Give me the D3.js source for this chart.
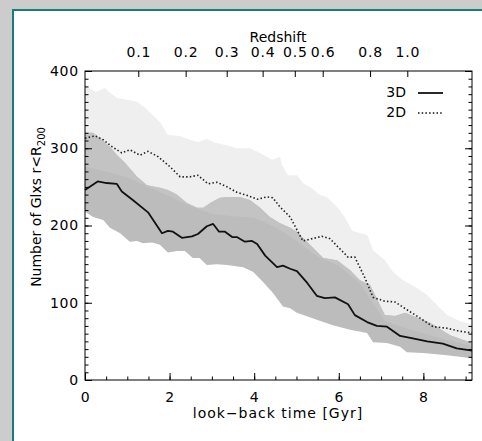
<!DOCTYPE html>
<html>
<head>
<meta charset="utf-8">
<script src="https://cdn.jsdelivr.net/npm/d3@7"></script>
<style>
  body { margin: 0; background: #cccccc; }
  svg { display: block; }
</style>
</head>
<body>
<div id="chart"></div>
<script>
// Redshift axis (top): labels and their look-back times
const redshiftLabels = ["0.1", "0.2", "0.3", "0.4", "0.5", "0.6", "0.8", "1.0"];
const redshiftTimes = [1.26, 2.38, 3.35, 4.2, 4.96, 5.62, 6.74, 7.62];

// 3D median
const time3D = [0, 0.3, 0.51, 0.75, 0.87, 1.13, 1.49, 1.82, 1.96, 2.08, 2.29, 2.53, 2.67, 2.88, 3.03, 3.17, 3.31, 3.48, 3.59, 3.78, 3.95, 4.07, 4.26, 4.54, 4.68, 4.85, 5.01, 5.25, 5.48, 5.67, 5.91, 6.22, 6.38, 6.67, 6.9, 7.14, 7.45, 7.75, 8.09, 8.46, 8.79, 9.15];
const count3D = [246, 257, 255, 254, 244, 233, 217, 190, 193, 192, 184, 186, 189, 199, 202, 192, 192, 185, 185, 179, 180, 176, 161, 146, 148, 144, 141, 126, 109, 106, 107, 98, 84, 75, 70, 69, 57, 54, 50, 47, 41, 38];

// 3D band
const time3DUp = [0, 0.19, 0.35, 0.59, 0.76, 0.95, 1.23, 1.47, 1.77, 1.96, 2.17, 2.41, 2.65, 2.8, 2.96, 3.19, 3.43, 3.66, 3.9, 4.14, 4.37, 4.61, 4.85, 5.01, 5.32, 5.63, 5.96, 6.27, 6.5, 6.74, 7.09, 7.33, 7.57, 8.16, 8.63, 9.15];
const count3DUp = [320, 320, 313, 302, 291, 281, 263, 252, 249, 246, 240, 229, 223, 223, 229, 236, 237, 237, 233, 223, 211, 203, 197, 192, 175, 158, 155, 142, 129, 123, 84, 83, 87, 74, 58, 48];
const time3DLo = [0, 0.19, 0.43, 0.59, 0.83, 1.06, 1.23, 1.37, 1.59, 1.77, 1.96, 2.17, 2.36, 2.55, 2.71, 2.88, 3.12, 3.36, 3.74, 3.97, 4.21, 4.44, 4.68, 4.85, 5.01, 5.48, 5.86, 6.27, 6.67, 6.81, 7.14, 7.45, 7.61, 8.0, 8.56, 9.15];
const count3DLo = [218, 211, 207, 197, 190, 179, 180, 177, 178, 175, 165, 167, 167, 158, 158, 149, 150, 149, 146, 140, 127, 113, 95, 93, 87, 78, 71, 65, 61, 49, 48, 43, 36, 35, 32, 28];

// 2D median
const time2D = [0, 0.24, 0.43, 0.64, 0.87, 1.06, 1.3, 1.49, 1.73, 2.01, 2.25, 2.48, 2.67, 2.91, 3.12, 3.36, 3.59, 3.83, 4.07, 4.3, 4.44, 4.61, 4.85, 5.15, 5.6, 5.79, 6.22, 6.38, 6.62, 6.81, 7.09, 7.33, 7.61, 7.87, 8.23, 8.56, 8.87, 9.15];
const count2D = [313, 316, 311, 302, 294, 298, 291, 296, 289, 276, 263, 263, 265, 254, 256, 250, 243, 239, 234, 237, 236, 224, 211, 180, 186, 183, 159, 159, 132, 107, 102, 101, 91, 82, 69, 67, 63, 61];

// 2D band
const time2DUp = [0, 0.24, 0.35, 0.47, 0.59, 0.76, 1.06, 1.25, 1.47, 1.77, 1.96, 2.25, 2.48, 2.67, 2.88, 3.07, 3.36, 3.59, 3.9, 4.14, 4.42, 4.61, 4.66, 4.8, 5.01, 5.15, 5.32, 5.56, 5.72, 5.96, 6.15, 6.31, 6.38, 6.67, 6.81, 7.09, 7.28, 7.52, 7.85, 8.09, 8.32, 8.56, 8.87, 9.15];
const count2DUp = [382, 373, 375, 378, 372, 365, 362, 360, 350, 334, 317, 316, 311, 308, 312, 307, 304, 300, 300, 294, 285, 289, 278, 265, 265, 255, 250, 239, 237, 224, 210, 194, 192, 188, 168, 155, 140, 129, 119, 110, 97, 84, 76, 72];
const time2DLo = [0, 0.5, 1, 1.5, 2, 2.5, 3, 3.5, 4, 4.5, 5, 5.5, 6, 6.5, 7.1, 7.6, 8.1, 8.6, 9.15];
const count2DLo = [276, 270, 262, 250, 238, 225, 215, 212, 210, 198, 180, 160, 148, 125, 76, 67, 59, 51, 44];

const yMajor = [0, 100, 200, 300, 400];
const xMajor = [0, 2, 4, 6, 8];

const W = 482, H = 441;
const svg = d3.select("#chart").append("svg")
    .attr("width", W)
    .attr("height", H)
    .style("font-family", "DejaVu Sans")
    .style("font-size", "14px");

// panel
svg.append("rect")
    .attr("x", 13).attr("y", 10)
    .attr("width", W).attr("height", H)
    .attr("fill", "#ffffff")
    .attr("stroke", "#1b7b7b")
    .attr("stroke-width", 2);

const x = d3.scaleLinear().domain([0, 9.15]).range([85, 472]);
const y = d3.scaleLinear().domain([0, 400]).range([380, 71]);

const pts = (ts, vs) => ts.map((t, i) => [x(t), y(vs[i])]);
const line = d3.line();

function bandPath(tu, vu, tl, vl) {
    const upper = pts(tu, vu);
    const lower = pts(tl, vl).reverse();
    return line(upper.concat(lower)) + "Z";
}

const band2D = bandPath(time2DUp, count2DUp, time2DLo, count2DLo);
const band3D = bandPath(time3DUp, count3DUp, time3DLo, count3DLo);

svg.append("clipPath").attr("id", "clip3d")
    .append("path").attr("d", band3D);

// Bands
svg.append("path").attr("d", band2D).attr("fill", "#efefef");
svg.append("path").attr("d", band3D).attr("fill", "#bcbcbc");
// overlap of the two bands is a touch lighter
svg.append("path").attr("d", band2D)
    .attr("fill", "#c3c3c3")
    .attr("clip-path", "url(#clip3d)");

// Median lines
svg.append("path")
    .attr("d", line(pts(time2D, count2D)))
    .attr("fill", "none")
    .attr("stroke", "#222")
    .attr("stroke-width", 1.6)
    .attr("stroke-dasharray", "1.5 2.2");

svg.append("path")
    .attr("d", line(pts(time3D, count3D)))
    .attr("fill", "none")
    .attr("stroke", "#111")
    .attr("stroke-width", 1.8)
    .attr("stroke-linejoin", "round");

// Axes
function styleAxis(g) {
    g.select(".domain").remove();
    g.selectAll("line").attr("stroke", "#000");
    g.selectAll("text").attr("fill", "#000")
        .style("font-size", "14px")
        .style("font-family", "DejaVu Sans")
        .style("letter-spacing", "0.8px");
}

const xMinor = d3.range(0, 9.15, 0.5);
const yMinor = d3.range(0, 401, 10);

svg.append("g").attr("transform", "translate(0,380)")
    .call(d3.axisBottom(x).tickValues(xMinor).tickSize(-3.5).tickFormat(""))
    .call(styleAxis);
svg.append("g").attr("transform", "translate(0,380)")
    .call(d3.axisBottom(x).tickValues(xMajor).tickSize(-7).tickPadding(12).tickFormat(d3.format("d")))
    .call(styleAxis);

svg.append("g").attr("transform", "translate(0,71)")
    .call(d3.axisTop(x).tickValues(redshiftTimes).tickSize(-6).tickPadding(14)
        .tickFormat((d, i) => redshiftLabels[i]))
    .call(styleAxis);

svg.append("g").attr("transform", "translate(85,0)")
    .call(d3.axisLeft(y).tickValues(yMinor).tickSize(-3.5).tickFormat(""))
    .call(styleAxis);
svg.append("g").attr("transform", "translate(85,0)")
    .call(d3.axisLeft(y).tickValues(yMajor).tickSize(-7).tickPadding(6).tickFormat(d3.format("d")))
    .call(styleAxis);

svg.append("g").attr("transform", "translate(472,0)")
    .call(d3.axisRight(y).tickValues(yMinor).tickSize(-3.5).tickFormat(""))
    .call(styleAxis);
svg.append("g").attr("transform", "translate(472,0)")
    .call(d3.axisRight(y).tickValues(yMajor).tickSize(-7).tickFormat(""))
    .call(styleAxis);

// frame
svg.append("rect")
    .attr("x", 85).attr("y", 71)
    .attr("width", 472 - 85).attr("height", 380 - 71)
    .attr("fill", "none")
    .attr("stroke", "#000")
    .attr("stroke-width", 1);

// Titles
svg.append("text")
    .attr("x", 278).attr("y", 42)
    .attr("text-anchor", "middle")
    .text("Redshift");

svg.append("text")
    .attr("x", 278).attr("y", 418)
    .attr("text-anchor", "middle")
    .style("letter-spacing", "1px")
    .text("look\u2212back time [Gyr]");

const yTitle = svg.append("text")
    .attr("transform", "translate(41,207) rotate(-90)")
    .attr("text-anchor", "middle");
yTitle.append("tspan").text("Number of Glxs r<R");
yTitle.append("tspan").attr("dy", 4).style("font-size", "10px").text("200");

// Legend
const legend = [
    { label: "3D", dash: null, width: 1.8, yy: 97 },
    { label: "2D", dash: "1.5 2.2", width: 1.4, yy: 117 }
];
legend.forEach(d => {
    svg.append("text")
        .attr("x", 406).attr("y", d.yy)
        .attr("text-anchor", "end")
        .text(d.label);
    svg.append("line")
        .attr("x1", 418).attr("x2", 443)
        .attr("y1", d.yy - 4).attr("y2", d.yy - 4)
        .attr("stroke", "#111")
        .attr("stroke-width", d.width)
        .attr("stroke-dasharray", d.dash);
});
</script>
</body>
</html>
